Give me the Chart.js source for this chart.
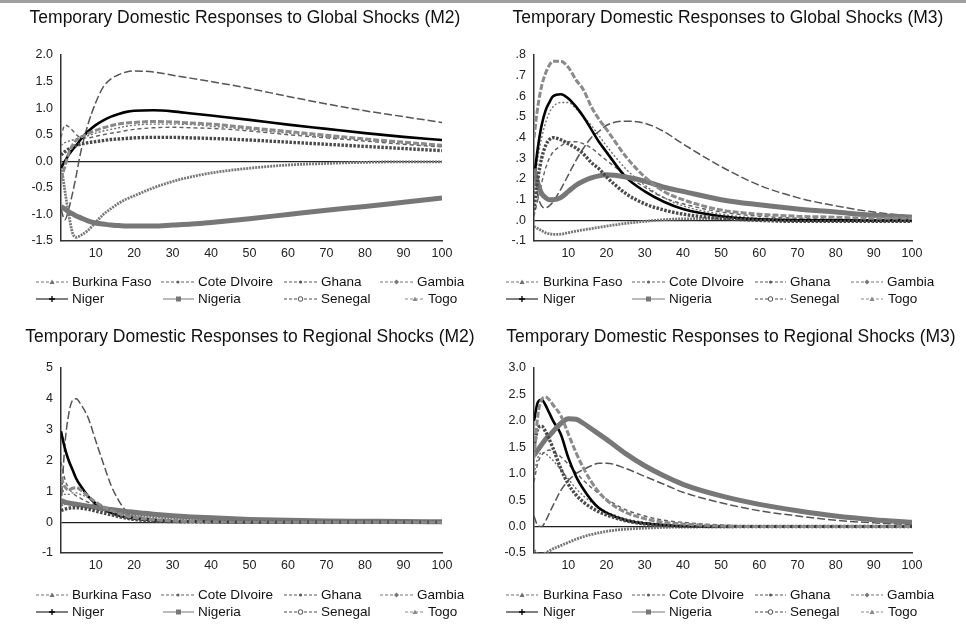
<!DOCTYPE html>
<html>
<head>
<meta charset="utf-8">
<script src="https://cdn.jsdelivr.net/npm/chart.js@4.4.1/dist/chart.umd.min.js"></script>
<style>
  html, body { margin: 0; padding: 0; background: #fff; }
  body { width: 966px; height: 626px; position: relative; overflow: hidden; }
  .topline { position: absolute; left: 0; top: 0; width: 966px; height: 3px; background: #a0a0a0; }
  .panel { position: absolute; width: 483px; height: 313px; }
</style>
</head>
<body>
<div class="topline"></div>
<div class="panel" style="left:0;top:0"><canvas id="gm2" width="483" height="313"></canvas></div>
<div class="panel" style="left:483px;top:0"><canvas id="gm3" width="483" height="313"></canvas></div>
<div class="panel" style="left:0;top:313px"><canvas id="rm2" width="483" height="313"></canvas></div>
<div class="panel" style="left:483px;top:313px"><canvas id="rm3" width="483" height="313"></canvas></div>
<script>
const steps = [1, 2, 3, 4, 5, 6, 8, 10, 12, 14, 16, 18, 20, 25, 30, 35, 40, 50, 60, 70, 80, 90, 100];
const countries = ["Burkina Faso", "Cote DIvoire", "Ghana", "Gambia", "Niger", "Nigeria", "Senegal", "Togo"];
const xTicks = [10, 20, 30, 40, 50, 60, 70, 80, 90, 100];

// rows follow the order of countries
const globalM2 = [
  [0.30, 0.35, 0.38, 0.40, 0.42, 0.44, 0.48, 0.53, 0.57, 0.60, 0.63, 0.66, 0.68, 0.70, 0.70, 0.69, 0.66, 0.60, 0.53, 0.46, 0.40, 0.34, 0.28],
  [0.45, 0.68, 0.65, 0.58, 0.50, 0.45, 0.44, 0.47, 0.50, 0.53, 0.55, 0.58, 0.60, 0.63, 0.64, 0.63, 0.62, 0.57, 0.50, 0.44, 0.38, 0.32, 0.27],
  [-0.90, -1.10, -0.90, -0.60, -0.25, 0.13, 0.69, 1.10, 1.40, 1.55, 1.63, 1.68, 1.70, 1.68, 1.62, 1.56, 1.50, 1.37, 1.22, 1.08, 0.95, 0.84, 0.73],
  [-0.05, -0.55, -1.00, -1.35, -1.43, -1.40, -1.30, -1.15, -1.00, -0.89, -0.79, -0.71, -0.65, -0.50, -0.38, -0.29, -0.22, -0.13, -0.07, -0.04, -0.02, -0.01, -0.01],
  [-0.12, 0.00, 0.12, 0.22, 0.30, 0.40, 0.56, 0.68, 0.77, 0.84, 0.89, 0.93, 0.95, 0.96, 0.94, 0.90, 0.86, 0.78, 0.69, 0.61, 0.53, 0.46, 0.40],
  [-0.85, -0.90, -0.95, -0.99, -1.03, -1.06, -1.12, -1.16, -1.18, -1.20, -1.21, -1.22, -1.22, -1.22, -1.20, -1.18, -1.15, -1.08, -1.00, -0.92, -0.85, -0.77, -0.69],
  [0.12, 0.18, 0.23, 0.27, 0.30, 0.32, 0.35, 0.37, 0.39, 0.41, 0.42, 0.43, 0.44, 0.45, 0.45, 0.44, 0.43, 0.40, 0.36, 0.32, 0.28, 0.24, 0.20],
  [-0.35, -0.10, 0.15, 0.30, 0.40, 0.45, 0.52, 0.58, 0.63, 0.67, 0.70, 0.72, 0.73, 0.75, 0.74, 0.72, 0.70, 0.63, 0.56, 0.49, 0.42, 0.36, 0.30]
];

const globalM3 = [
  [0.15, 0.30, 0.40, 0.47, 0.52, 0.55, 0.57, 0.57, 0.54, 0.50, 0.46, 0.41, 0.36, 0.25, 0.17, 0.11, 0.07, 0.03, 0.01, 0.005, 0.0, 0.0, 0.0],
  [0.02, 0.10, 0.18, 0.25, 0.30, 0.33, 0.36, 0.38, 0.38, 0.37, 0.35, 0.32, 0.29, 0.22, 0.16, 0.11, 0.08, 0.04, 0.02, 0.01, 0.005, 0.0, 0.0],
  [0.25, 0.12, 0.07, 0.06, 0.07, 0.09, 0.15, 0.22, 0.29, 0.35, 0.40, 0.43, 0.46, 0.48, 0.47, 0.43, 0.37, 0.26, 0.17, 0.11, 0.07, 0.04, 0.02],
  [-0.03, -0.04, -0.05, -0.06, -0.065, -0.068, -0.067, -0.06, -0.052, -0.046, -0.04, -0.034, -0.028, -0.015, -0.005, 0.003, 0.007, 0.008, 0.006, 0.002, 0.0, -0.002, -0.003],
  [0.20, 0.35, 0.46, 0.53, 0.57, 0.60, 0.61, 0.59, 0.55, 0.50, 0.44, 0.38, 0.33, 0.21, 0.14, 0.09, 0.055, 0.02, 0.005, 0.0, 0.0, 0.0, 0.0],
  [0.25, 0.18, 0.13, 0.11, 0.10, 0.10, 0.11, 0.14, 0.17, 0.19, 0.205, 0.215, 0.22, 0.21, 0.19, 0.16, 0.14, 0.10, 0.075, 0.055, 0.04, 0.025, 0.015],
  [0.05, 0.20, 0.30, 0.36, 0.39, 0.40, 0.39, 0.37, 0.35, 0.32, 0.28, 0.25, 0.21, 0.13, 0.08, 0.05, 0.03, 0.01, 0.0, -0.005, -0.005, -0.005, -0.005],
  [0.40, 0.55, 0.65, 0.71, 0.75, 0.77, 0.77, 0.74, 0.68, 0.63, 0.55, 0.49, 0.44, 0.31, 0.21, 0.14, 0.10, 0.05, 0.03, 0.02, 0.015, 0.01, 0.01]
];

const regionalM2 = [
  [1.30, 0.90, 0.90, 0.95, 0.95, 0.90, 0.80, 0.65, 0.52, 0.42, 0.33, 0.26, 0.20, 0.10, 0.05, 0.03, 0.02, 0.01, 0, 0, 0, 0, 0],
  [1.95, 1.40, 1.10, 0.95, 0.85, 0.78, 0.65, 0.55, 0.45, 0.37, 0.30, 0.24, 0.19, 0.11, 0.07, 0.05, 0.03, 0.015, 0.01, 0, 0, 0, 0],
  [0.50, 2.50, 3.50, 3.95, 4.00, 3.85, 3.40, 2.65, 1.90, 1.20, 0.70, 0.35, 0.15, 0.03, 0.0, 0, 0, 0, 0, 0, 0, 0, 0],
  [0.55, 0.60, 0.62, 0.62, 0.60, 0.58, 0.52, 0.45, 0.40, 0.35, 0.31, 0.27, 0.24, 0.18, 0.13, 0.10, 0.08, 0.05, 0.03, 0.02, 0.01, 0.01, 0.005],
  [2.95, 2.40, 2.00, 1.70, 1.40, 1.20, 0.85, 0.60, 0.42, 0.30, 0.22, 0.16, 0.12, 0.06, 0.03, 0.02, 0.01, 0, 0, 0, 0, 0, 0],
  [0.70, 0.65, 0.62, 0.60, 0.58, 0.56, 0.52, 0.48, 0.44, 0.41, 0.38, 0.35, 0.32, 0.26, 0.21, 0.17, 0.14, 0.09, 0.06, 0.04, 0.03, 0.02, 0.015],
  [0.38, 0.42, 0.45, 0.47, 0.47, 0.46, 0.42, 0.36, 0.30, 0.24, 0.18, 0.13, 0.09, 0.04, 0.02, 0.01, 0.01, 0, 0, 0, 0, 0, 0],
  [1.45, 1.15, 1.05, 1.10, 1.12, 1.05, 0.85, 0.65, 0.50, 0.38, 0.28, 0.20, 0.15, 0.08, 0.04, 0.02, 0.015, 0, 0, 0, 0, 0, 0]
];

const regionalM3 = [
  [1.00, 1.30, 1.40, 1.38, 1.32, 1.25, 1.08, 0.90, 0.72, 0.58, 0.46, 0.36, 0.28, 0.15, 0.08, 0.04, 0.02, 0, 0, 0, 0, 0, 0],
  [0.85, 1.20, 1.35, 1.42, 1.45, 1.42, 1.32, 1.18, 1.02, 0.87, 0.74, 0.62, 0.52, 0.32, 0.20, 0.12, 0.08, 0.03, 0.01, 0, 0, 0, 0],
  [0.20, 0.02, 0.00, 0.10, 0.25, 0.40, 0.68, 0.87, 1.00, 1.08, 1.15, 1.20, 1.20, 1.10, 0.95, 0.80, 0.65, 0.45, 0.30, 0.20, 0.12, 0.07, 0.04],
  [-0.45, -0.52, -0.53, -0.50, -0.46, -0.42, -0.36, -0.30, -0.24, -0.19, -0.15, -0.12, -0.09, -0.05, -0.03, -0.015, -0.01, -0.005, 0, 0, 0, 0, 0],
  [2.00, 2.35, 2.40, 2.30, 2.15, 2.00, 1.75, 1.30, 0.95, 0.70, 0.50, 0.35, 0.26, 0.12, 0.06, 0.03, 0.01, 0, 0, 0, 0, 0, 0],
  [1.35, 1.45, 1.55, 1.65, 1.72, 1.80, 1.95, 2.04, 2.03, 1.95, 1.85, 1.75, 1.65, 1.38, 1.15, 0.96, 0.80, 0.58, 0.42, 0.30, 0.20, 0.13, 0.08],
  [1.50, 1.85, 1.90, 1.80, 1.65, 1.48, 1.10, 0.80, 0.60, 0.46, 0.36, 0.28, 0.22, 0.11, 0.05, 0.02, 0.01, 0, 0, 0, 0, 0, 0],
  [1.30, 2.10, 2.40, 2.45, 2.40, 2.30, 2.10, 1.75, 1.40, 1.10, 0.85, 0.65, 0.50, 0.27, 0.15, 0.08, 0.05, 0.01, 0, 0, 0, 0, 0]
];

const yTicksGlobalM2 = [-1.5, -1.0, -0.5, 0.0, 0.5, 1.0, 1.5, 2.0];
const yTicksGlobalM3 = [-0.1, 0.0, 0.1, 0.2, 0.3, 0.4, 0.5, 0.6, 0.7, 0.8];
const yTicksRegionalM2 = [-1, 0, 1, 2, 3, 4, 5];
const yTicksRegionalM3 = [-0.5, 0.0, 0.5, 1.0, 1.5, 2.0, 2.5, 3.0];

const FONT = '"Liberation Sans", Arial, sans-serif';
const Y_W = 45;
const X_H = 22;

const seriesStyles = [
  { color: '#707070', width: 1.4, dash: [2, 2], marker: 'tri' },
  { color: '#606060', width: 1.4, dash: [4, 3], marker: 'dot' },
  { color: '#555555', width: 1.5, dash: [8, 3], marker: 'dot' },
  { color: '#777777', width: 2.8, dash: [2, 1], marker: 'diamond' },
  { color: '#000000', width: 2.6, dash: [], marker: 'plus' },
  { color: '#777777', width: 5, dash: [], marker: 'square' },
  { color: '#4a4a4a', width: 3.4, dash: [2.5, 1.5], marker: 'circle' },
  { color: '#8a8a8a', width: 3, dash: [6, 2], marker: 'tri' }
];

// legend item placement: [line start, line end, text x]
const legendLeft = [[36, 68, 72], [161, 195, 198], [284, 317, 321], [380, 413, 417],
                    [36, 68, 72], [163, 194, 198], [284, 317, 321], [405, 425, 428]];
const legendRight = [[23, 55, 60], [149, 182, 186], [272, 303, 307], [368, 400, 404],
                     [23, 55, 60], [149, 182, 186], [272, 303, 307], [378, 400, 405]];

function drawMarker(ctx, kind, x, y, color) {
  ctx.fillStyle = color;
  ctx.strokeStyle = color;
  ctx.lineWidth = 1;
  ctx.beginPath();
  if (kind === 'tri') {
    ctx.moveTo(x, y - 2.5); ctx.lineTo(x + 2.5, y + 2); ctx.lineTo(x - 2.5, y + 2); ctx.closePath(); ctx.fill();
  } else if (kind === 'dot') {
    ctx.arc(x, y, 1.5, 0, Math.PI * 2); ctx.fill();
  } else if (kind === 'diamond') {
    ctx.moveTo(x, y - 2.5); ctx.lineTo(x + 2.5, y); ctx.lineTo(x, y + 2.5); ctx.lineTo(x - 2.5, y); ctx.closePath(); ctx.fill();
  } else if (kind === 'plus') {
    ctx.lineWidth = 1.3;
    ctx.moveTo(x - 3, y); ctx.lineTo(x + 3, y); ctx.moveTo(x, y - 3); ctx.lineTo(x, y + 3); ctx.stroke();
  } else if (kind === 'square') {
    ctx.rect(x - 2.5, y - 2.5, 5, 5); ctx.fill();
  } else if (kind === 'circle') {
    ctx.fillStyle = '#fff';
    ctx.arc(x, y, 2.3, 0, Math.PI * 2); ctx.fill(); ctx.stroke();
  }
}

// panel title and the two-row country key
const panelText = {
  id: 'panelText',
  afterDraw(chart, args, opts) {
    const ctx = chart.ctx;
    ctx.save();
    ctx.textBaseline = 'middle';
    ctx.fillStyle = '#111';
    ctx.font = '17.5px ' + FONT;
    ctx.textAlign = 'center';
    ctx.fillText(opts.title, opts.titleX, opts.titleY);
    ctx.textAlign = 'left';
    ctx.font = '13.5px ' + FONT;
    countries.forEach((name, i) => {
      const pos = opts.items[i];
      const y = i < 4 ? 282 : 299;
      const st = seriesStyles[i];
      ctx.strokeStyle = st.color;
      ctx.lineWidth = 1;
      ctx.setLineDash(st.dash.length ? [3, 2] : []);
      ctx.beginPath();
      ctx.moveTo(pos[0], y);
      ctx.lineTo(pos[1], y);
      ctx.stroke();
      ctx.setLineDash([]);
      drawMarker(ctx, st.marker, (pos[0] + pos[1]) / 2, y, st.color);
      ctx.fillStyle = '#111';
      ctx.fillText(name, pos[2], y);
    });
    ctx.restore();
  }
};

function makeChart(id, title, rows, yTicks, fmt, area, items) {
  const datasets = rows.map((vals, i) => ({
    label: countries[i],
    data: steps.map((s, j) => ({ x: s, y: vals[j] })),
    borderColor: seriesStyles[i].color,
    borderWidth: seriesStyles[i].width,
    borderDash: seriesStyles[i].dash,
    pointRadius: 0,
    cubicInterpolationMode: 'monotone',
    fill: false,
    order: rows.length - i
  }));

  new Chart(document.getElementById(id), {
    type: 'line',
    data: { datasets },
    options: {
      responsive: false,
      animation: false,
      events: [],
      layout: {
        padding: { left: area.left - Y_W, right: 483 - area.right, top: area.top, bottom: 313 - area.bottom - X_H }
      },
      plugins: {
        legend: { display: false },
        tooltip: { enabled: false },
        title: { display: false },
        panelText: { title: title, titleX: area.titleX, titleY: area.titleY, items: items }
      },
      scales: {
        x: {
          type: 'linear',
          min: 1,
          max: 100,
          afterFit: s => { s.height = X_H; },
          afterBuildTicks: s => { s.ticks = xTicks.map(v => ({ value: v })); },
          grid: { display: false, drawTicks: false },
          border: { display: true, color: '#333', width: 1.5 },
          ticks: { padding: 5, color: '#222', font: { family: FONT, size: 12.5 }, maxRotation: 0, autoSkip: false }
        },
        y: {
          min: yTicks[0],
          max: yTicks[yTicks.length - 1],
          afterFit: s => { s.width = Y_W; },
          afterBuildTicks: s => { s.ticks = yTicks.map(v => ({ value: v })); },
          grid: {
            drawTicks: false,
            lineWidth: 1.2,
            color: c => (c.tick && Math.abs(c.tick.value) < 1e-9) ? '#222' : 'rgba(0,0,0,0)'
          },
          border: { display: true, color: '#333', width: 1.5 },
          ticks: { padding: 8, color: '#222', font: { family: FONT, size: 12.5 }, callback: fmt, autoSkip: false }
        }
      }
    },
    plugins: [panelText]
  });
}

const oneDec = v => v.toFixed(1);
const noLead = v => v.toFixed(1).replace(/^(-?)0\./, '$1.');
const whole = v => String(Math.round(v));

makeChart('gm2', 'Temporary Domestic Responses to Global Shocks (M2)', globalM2, yTicksGlobalM2, oneDec,
  { left: 61, right: 442, top: 55, bottom: 241, titleX: 245, titleY: 18 }, legendLeft);
makeChart('gm3', 'Temporary Domestic Responses to Global Shocks (M3)', globalM3, yTicksGlobalM3, noLead,
  { left: 51, right: 429, top: 55, bottom: 241, titleX: 245, titleY: 18 }, legendRight);
makeChart('rm2', 'Temporary Domestic Responses to Regional Shocks (M2)', regionalM2, yTicksRegionalM2, whole,
  { left: 61, right: 442, top: 55, bottom: 240, titleX: 250, titleY: 24 }, legendLeft);
makeChart('rm3', 'Temporary Domestic Responses to Regional Shocks (M3)', regionalM3, yTicksRegionalM3, oneDec,
  { left: 51, right: 429, top: 55, bottom: 240, titleX: 248, titleY: 24 }, legendRight);
</script>
</body>
</html>
